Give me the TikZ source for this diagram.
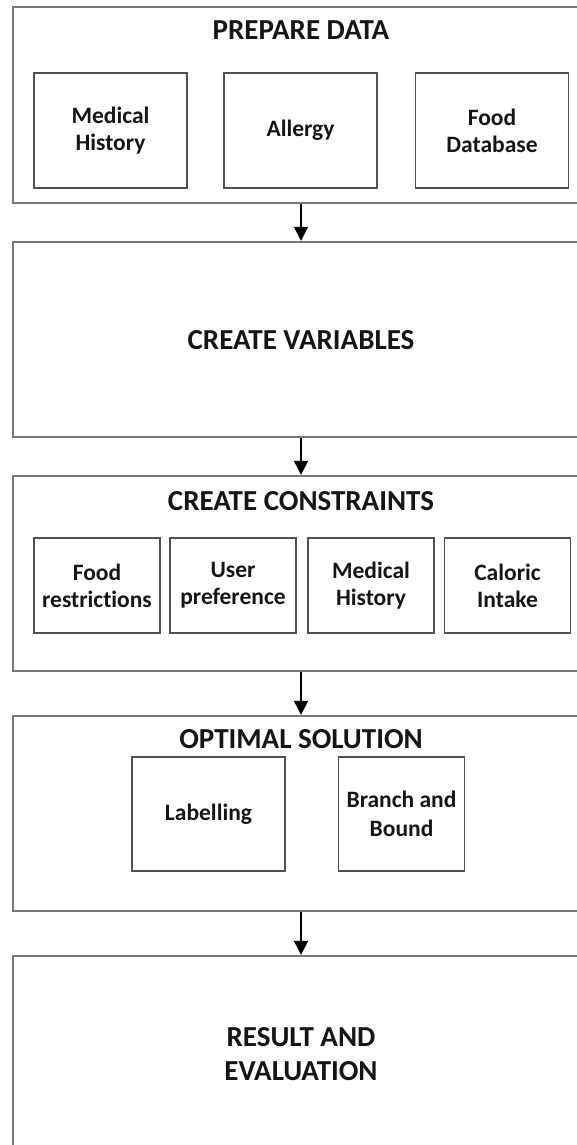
\documentclass[tikz,border=0pt]{standalone}
\usepackage{fontspec}
\setmainfont{Carlito}[Ligatures=NoCommon]
\usetikzlibrary{arrows.meta}
\definecolor{outerline}{HTML}{777777}
\definecolor{innerline}{HTML}{505050}
\definecolor{ink}{HTML}{151515}
\tikzset{
  stage/.style={draw=outerline, line width=2.4pt, inner sep=0pt, minimum width=576pt},
  item/.style={draw=innerline, line width=1.8pt, inner sep=0pt, align=center,
    text=ink, font=\bfseries\fontsize{23.5}{27}\selectfont},
  heading/.style={inner sep=0pt, align=center, text=ink,
    font=\bfseries\fontsize{29}{34}\selectfont},
  flow/.style={-{Triangle[width=14pt,length=14pt]}, line width=1.8pt, black}
}
\begin{document}
\begin{tikzpicture}[x=1pt,y=-1pt]
\useasboundingbox (0,0) rectangle (577,1145);
\clip (0,0) rectangle (577,1145);

% five stages, drawn wider than the page so their right sides run off it
\node[stage, minimum height=196pt] (s1) at (301,105) {};
\node[stage, minimum height=195pt] (s2) at (301,339.5) {};
\node[stage, minimum height=195pt] (s3) at (301,573.5) {};
\node[stage, minimum height=195pt] (s4) at (301,813.5) {};
\node[stage, minimum height=220pt] (s5) at (301,1066) {};

% stage 1: prepare data
\node[heading] (h1) at (301,30) {PREPARE DATA};
\node[item, minimum width=153pt, minimum height=115pt] (mh1) at (110.5,130.5) {Medical\\History};
\node[item, minimum width=153pt, minimum height=115pt] (al) at (300.5,130.5) {Allergy};
\node[item, minimum width=153pt, minimum height=115pt] (fd) at (492,130.5) {Food\\Database};

% stage 2: create variables
\node[heading] (h2) at (301,340) {CREATE VARIABLES};

% stage 3: create constraints
\node[heading] (h3) at (301,501) {CREATE CONSTRAINTS};
\node[item, minimum width=126pt, minimum height=95pt] (fr) at (97,585.5) {Food\\restrictions};
\node[item, minimum width=126pt, minimum height=95pt] (up) at (233,585.5) {User\\preference};
\node[item, minimum width=126pt, minimum height=95pt] (mh2) at (371,585.5) {Medical\\History};
\node[item, minimum width=126pt, minimum height=95pt] (ci) at (507.5,585.5) {Caloric\\Intake};

% stage 4: optimal solution
\node[heading] (h4) at (301,739) {OPTIMAL SOLUTION};
\node[item, minimum width=153pt, minimum height=114pt] (lb) at (208.5,814) {Labelling};
\node[item, minimum width=126pt, minimum height=114pt, font=\bfseries\fontsize{23.5}{29}\selectfont] (bb) at (401.5,814) {Branch and\\Bound};

% stage 5: result and evaluation
\node[heading] (h5) at (301,1054) {RESULT AND\\EVALUATION};

% flow between stages
\draw[flow] (s1.south) -- (s2.north);
\draw[flow] (s2.south) -- (s3.north);
\draw[flow] (s3.south) -- (s4.north);
\draw[flow] (s4.south) -- (s5.north);
\end{tikzpicture}
\end{document}
